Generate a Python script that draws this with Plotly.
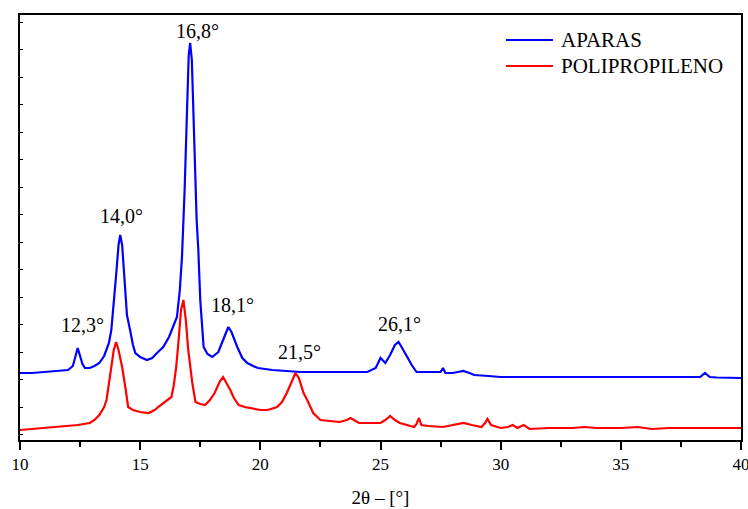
import plotly.graph_objects as go

# ---- data (2θ in degrees, intensity in arbitrary units) ----
aparas_x = [10.0, 10.5, 11.0, 11.5, 12.0, 12.2, 12.3, 12.4, 12.5, 12.6, 12.7, 12.9, 13.1, 13.3, 13.5,
            13.7, 13.8, 13.9, 14.0, 14.1, 14.17, 14.25, 14.35, 14.45, 14.58, 14.7, 14.8, 15.0, 15.28,
            15.5, 15.7, 15.96, 16.2, 16.4, 16.53, 16.65, 16.74, 16.85, 16.95, 17.02, 17.08, 17.15,
            17.25, 17.35, 17.42, 17.5, 17.64, 17.8, 18.0, 18.25, 18.45, 18.6, 18.67, 18.8, 19.04,
            19.25, 19.46, 19.7, 19.9, 20.5, 21.0, 21.67, 22.5, 23.5, 24.45, 24.8, 25.0, 25.2, 25.4,
            25.6, 25.75, 25.9, 26.1, 26.3, 26.5, 27.0, 27.5, 27.6, 27.7, 28.0, 28.3, 28.45, 28.7,
            28.9, 29.5, 30.0, 31.0, 32.0, 33.0, 34.0, 35.0, 36.0, 37.0, 38.0, 38.3, 38.5, 38.7,
            39.0, 40.0]
aparas_y = [67, 67, 68, 69, 70, 74, 84, 92, 84, 76, 72, 72, 74, 77, 84,
            97, 110, 135, 165, 195, 205, 195, 160, 125, 110, 95, 87, 83, 80,
            82, 87, 93, 103, 115, 123, 150, 183, 250, 330, 385, 397, 380,
            300, 220, 190, 140, 93, 86, 83, 88, 100, 110, 113, 108, 93,
            82, 77, 74, 72, 70, 69, 68, 68, 68, 68, 72, 82, 77, 85,
            95, 98, 92, 83, 75, 68, 68, 68, 72, 67, 67, 68, 69, 67,
            65, 64, 63, 63, 63, 63, 63, 62.5, 63, 63, 63, 63, 67, 63,
            62.5, 62]

pp_x = [10.0, 10.5, 11.0, 11.5, 12.0, 12.4, 12.9, 13.1, 13.3, 13.5, 13.6, 13.7, 13.8, 13.9, 14.0,
        14.1, 14.25, 14.4, 14.5, 14.7, 15.0, 15.35, 15.6, 15.8, 15.96, 16.1, 16.3, 16.4, 16.5,
        16.6, 16.7, 16.8, 16.9, 17.0, 17.17, 17.3, 17.5, 17.7, 17.9, 18.1, 18.3, 18.45, 18.6,
        18.75, 18.9, 19.1, 19.35, 19.6, 20.0, 20.3, 20.7, 20.9, 21.1, 21.3, 21.46, 21.6, 21.67,
        21.8, 21.95, 22.1, 22.2, 22.5, 23.0, 23.3, 23.6, 23.75, 23.9, 24.1, 24.5, 25.0, 25.2,
        25.4, 25.6, 25.8, 26.1, 26.4, 26.5, 26.6, 26.7, 27.0, 27.6, 28.0, 28.45, 28.8, 29.2,
        29.35, 29.45, 29.6, 30.0, 30.3, 30.5, 30.7, 30.96, 31.2, 32.0, 33.0, 33.5, 34.0, 35.0,
        35.7, 36.3, 37.0, 38.0, 39.0, 40.0]
pp_y = [10, 11, 12, 13, 14, 15, 17, 20, 25, 33, 40, 55, 73, 90, 98,
        90, 73, 50, 33, 30, 28, 27, 30, 34, 37, 40, 43, 55, 73,
        100, 130, 140, 120, 90, 57, 38, 36, 35, 40, 47, 58, 63, 57,
        50, 42, 35, 33, 32, 30, 30, 33, 38, 47, 58, 67, 62, 57,
        47, 40, 32, 27, 20, 19, 18, 20, 22, 20, 17, 17, 17, 20,
        24, 20, 17, 15, 13, 16, 22, 15, 14, 13, 15, 17, 15, 13,
        17, 21, 15, 12, 13, 15, 12, 15, 11, 12, 12, 13, 12, 12,
        13, 11, 12, 12, 12, 12]

series_names = ["APARAS", "POLIPROPILENO"]
series_colors = ["#0000ff", "#ff0000"]

peak_labels = ["12,3°", "14,0°", "16,8°", "18,1°", "21,5°", "26,1°"]
peak_label_x = [12.58, 14.24, 17.39, 18.86, 21.65, 25.81]
peak_label_y = [115, 224, 409, 135, 88, 116]

x_ticks = [10, 15, 20, 25, 30, 35, 40]

FONT = "Liberation Serif"

fig = go.Figure()
for xs, ys, name, col in [(aparas_x, aparas_y, series_names[0], series_colors[0]),
                          (pp_x, pp_y, series_names[1], series_colors[1])]:
    fig.add_trace(go.Scatter(x=xs, y=ys, mode="lines", name=name,
                             line=dict(color=col, width=2.2), showlegend=False))

for t, x, y in zip(peak_labels, peak_label_x, peak_label_y):
    fig.add_annotation(x=x, y=y, xref="x", yref="y", text=t, showarrow=False,
                       font=dict(family=FONT, size=20, color="black"))

# manual legend (paper coordinates)
W, H = 748, 509
L, R, T, B = 20, 7, 15, 69
pw, ph = W - L - R, H - T - B
def px(xp):
    return (xp - L) / pw
def py(yp):
    return (H - B - yp) / ph
for i, (name, col) in enumerate(zip(series_names, series_colors)):
    yy = 40 + i * 26
    fig.add_shape(type="line", xref="paper", yref="paper", x0=px(506), x1=px(553),
                  y0=py(yy), y1=py(yy), line=dict(color=col, width=2))
    fig.add_annotation(xref="paper", yref="paper", x=px(559), y=py(yy), text=name,
                       showarrow=False, xanchor="left", yanchor="middle",
                       font=dict(family=FONT, size=21, color="black"))

fig.update_layout(
    width=W, height=H,
    margin=dict(l=L, r=R, t=T, b=B, autoexpand=False),
    paper_bgcolor="white", plot_bgcolor="white",
    font=dict(family=FONT, size=17, color="black"),
    showlegend=False,
)
fig.update_xaxes(range=[10, 40], tickvals=x_ticks, ticktext=[str(v) for v in x_ticks],
                 automargin=False, ticklabeloverflow="allow",
                 ticks="outside", ticklen=8, tickwidth=1.5, tickcolor="black",
                 minor=dict(dtick=2.5, tick0=10, ticks="outside", ticklen=5, tickwidth=1.5, tickcolor="black"),
                 showline=True, linecolor="black", linewidth=1.5, mirror=True,
                 showgrid=False, zeroline=False,
                 tickfont=dict(family=FONT, size=17),
                 title=dict(text="2θ – [°]", font=dict(family=FONT, size=19), standoff=18))
fig.update_yaxes(range=[0, 425], tick0=5.5, dtick=27.5, ticks="inside", ticklen=3,
                 automargin=False,
                 tickwidth=1, tickcolor="black", showticklabels=False,
                 showline=True, linecolor="black", linewidth=1.5, mirror=True,
                 showgrid=False, zeroline=False)

fig.write_html("out.html")
